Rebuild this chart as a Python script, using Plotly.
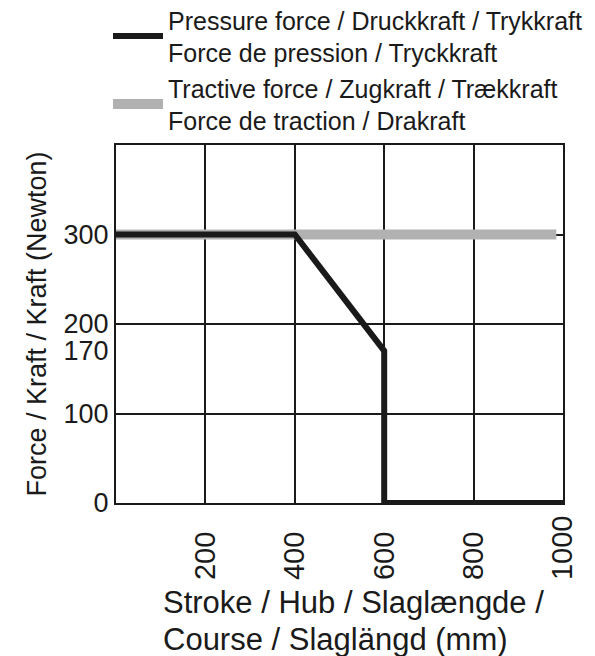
import plotly.graph_objects as go

# Data
stroke_pressure = [0, 400, 600, 600, 1000]
force_pressure = [300, 300, 170, 0, 0]
stroke_tractive = [0, 985]
force_tractive = [300, 300]

x_tickvals = [200, 400, 600, 800, 1000]
x_ticktext = ["200\u2007", "400\u2007", "600\u2007", "800\u2007", "1000"]
y_tickvals = [0, 100, 170, 200, 300]
y_ticktext = ["0", "100", "170", "200", "300"]
y_gridvals = [100, 200, 300]

name_pressure = "Pressure force / Druckkraft / Trykkraft<br>Force de pression / Tryckkraft"
name_tractive = "Tractive force / Zugkraft / Trækkraft<br>Force de traction / Drakraft"
x_title_lines = ["Stroke / Hub / Slaglængde /", "Course / Slaglängd (mm)"]
y_title = "Force / Kraft / Kraft (Newton)"

FONT = "Liberation Sans, Arial, sans-serif"
INK = "#1a1a1a"
OFF = 8  # page body offset
W, H = 595 - OFF, 656 - OFF
L, R, T, B = 116 - OFF, 32, 145 - OFF, 153
PW, PH = W - L - R, H - T - B


def py(screen_y):
    """screen pixel y -> paper y"""
    return (T + PH - (screen_y - OFF)) / PH


fig = go.Figure()
fig.add_trace(go.Scatter(
    x=stroke_tractive, y=force_tractive, mode="lines", name=name_tractive,
    line=dict(color="#b0b1b0", width=10), legendrank=2, cliponaxis=False,
))
fig.add_trace(go.Scatter(
    x=stroke_pressure, y=force_pressure, mode="lines", name=name_pressure,
    line=dict(color=INK, width=6), legendrank=1, cliponaxis=False,
))

annotations = []
for i, line in enumerate(x_title_lines):
    annotations.append(dict(
        text=line, xref="paper", yref="paper",
        x=(161 - OFF - L) / PW, y=py(583 + 37 * i),
        xanchor="left", yanchor="top", align="left", showarrow=False,
        font=dict(size=31, family=FONT, color=INK),
    ))

fig.update_layout(
    width=W, height=H,
    margin=dict(l=L, r=R, t=T, b=B, autoexpand=False),
    plot_bgcolor="white", paper_bgcolor="white",
    font=dict(family=FONT, color=INK),
    showlegend=True,
    legend=dict(
        x=(108 - OFF - L) / PW, y=1 + (T + 11) / PH, xanchor="left", yanchor="top",
        font=dict(size=25, family=FONT, color=INK),
        itemwidth=50, bgcolor="rgba(0,0,0,0)",
    ),
    xaxis=dict(
        range=[0, 1000], tickvals=x_tickvals, ticktext=x_ticktext,
        tickangle=-90, tickfont=dict(size=29, family=FONT, color=INK),
        showgrid=True, gridcolor=INK, gridwidth=2,
        showline=True, mirror=True, linecolor=INK, linewidth=2,
        zeroline=False, ticks="", ticklabelstandoff=-1,
    ),
    yaxis=dict(
        range=[0, 400], tickvals=y_tickvals, ticktext=y_ticktext,
        tickfont=dict(size=27, family=FONT, color=INK),
        showgrid=False,
        minor=dict(tickvals=y_gridvals, showgrid=True, gridcolor=INK, gridwidth=2, ticks=""),
        showline=True, mirror=True, linecolor=INK, linewidth=2,
        zeroline=False, ticks="",
        title=dict(text=y_title, font=dict(size=27, family=FONT, color=INK), standoff=9),
    ),
    annotations=annotations,
)

fig.write_html("out.html")
